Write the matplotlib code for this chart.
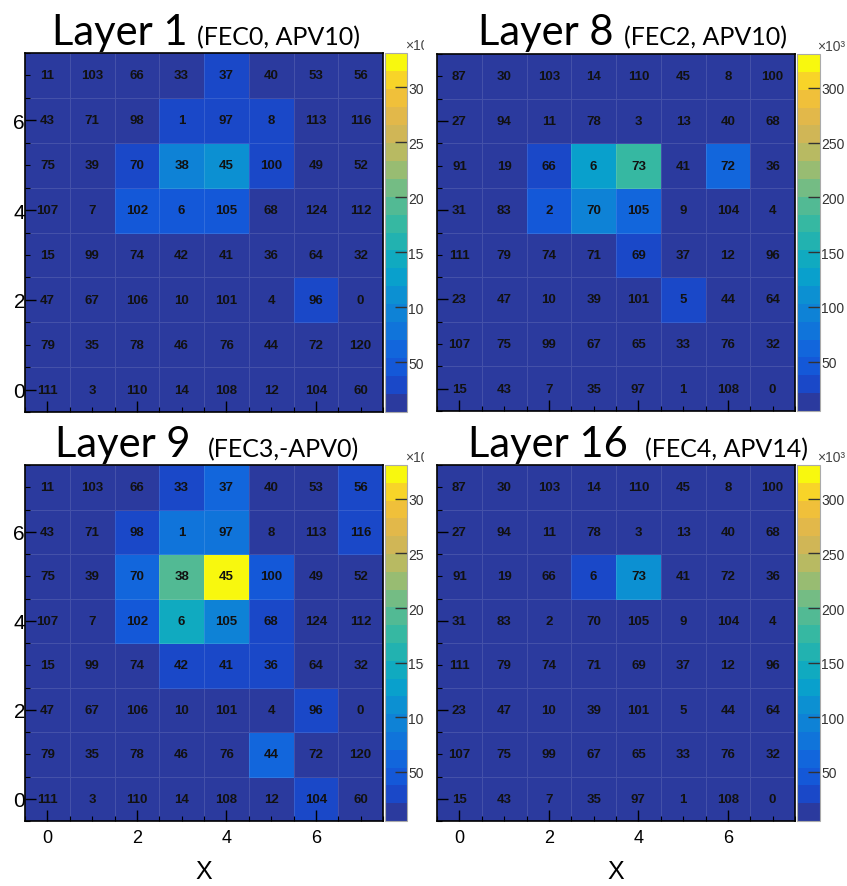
import numpy as np
import matplotlib
matplotlib.use('Agg')
import matplotlib.pyplot as plt
from matplotlib.colors import ListedColormap, Normalize
from matplotlib.patches import Rectangle
from matplotlib.ticker import MultipleLocator

W, H = 847, 887

# channel numbers printed in the cells (rows listed top y=7 -> bottom y=0)
chan_a = [[11, 103, 66, 33, 37, 40, 53, 56],
          [43, 71, 98, 1, 97, 8, 113, 116],
          [75, 39, 70, 38, 45, 100, 49, 52],
          [107, 7, 102, 6, 105, 68, 124, 112],
          [15, 99, 74, 42, 41, 36, 64, 32],
          [47, 67, 106, 10, 101, 4, 96, 0],
          [79, 35, 78, 46, 76, 44, 72, 120],
          [111, 3, 110, 14, 108, 12, 104, 60]]
chan_b = [[87, 30, 103, 14, 110, 45, 8, 100],
          [27, 94, 11, 78, 3, 13, 40, 68],
          [91, 19, 66, 6, 73, 41, 72, 36],
          [31, 83, 2, 70, 105, 9, 104, 4],
          [111, 79, 74, 71, 69, 37, 12, 96],
          [23, 47, 10, 39, 101, 5, 44, 64],
          [107, 75, 99, 67, 65, 33, 76, 32],
          [15, 43, 7, 35, 97, 1, 108, 0]]

# charge per pad (x10^3), estimated from the colours, same row order
layer1 = [[12, 12, 12, 12, 30, 12, 12, 12],
          [12, 12, 12, 30, 30, 30, 12, 12],
          [12, 12, 32, 95, 105, 32, 12, 12],
          [12, 12, 50, 52, 50, 12, 12, 12],
          [12, 12, 12, 12, 12, 12, 12, 12],
          [12, 12, 12, 12, 12, 12, 30, 12],
          [12, 12, 12, 12, 12, 12, 12, 12],
          [12, 12, 12, 12, 12, 12, 12, 12]]
layer8 = [[12, 12, 12, 12, 12, 12, 12, 12],
          [12, 12, 12, 12, 12, 12, 12, 12],
          [12, 12, 32, 128, 170, 12, 60, 12],
          [12, 12, 40, 92, 55, 12, 12, 12],
          [12, 12, 12, 12, 36, 12, 12, 12],
          [12, 12, 12, 12, 12, 32, 12, 12],
          [12, 12, 12, 12, 12, 12, 12, 12],
          [12, 12, 12, 12, 12, 12, 12, 12]]
layer9 = [[12, 12, 12, 30, 60, 12, 12, 34],
          [12, 12, 34, 80, 78, 12, 12, 34],
          [12, 12, 60, 192, 325, 40, 12, 12],
          [12, 12, 40, 144, 92, 30, 12, 12],
          [12, 12, 12, 34, 34, 30, 12, 12],
          [12, 12, 12, 12, 12, 12, 34, 12],
          [12, 12, 12, 12, 12, 58, 12, 12],
          [12, 12, 12, 12, 12, 12, 34, 12]]
layer16 = [[12, 12, 12, 12, 12, 12, 12, 12],
           [12, 12, 12, 12, 12, 12, 12, 12],
           [12, 12, 12, 34, 108, 12, 12, 12],
           [12, 12, 12, 12, 12, 12, 12, 12],
           [12, 12, 12, 12, 12, 12, 12, 12],
           [12, 12, 12, 12, 12, 12, 12, 12],
           [12, 12, 12, 12, 12, 12, 12, 12],
           [12, 12, 12, 12, 12, 12, 12, 12]]

titles = [('Layer 1', '(FEC0, APV10)'), ('Layer 8', '(FEC2, APV10)'),
          ('Layer 9', '(FEC3,-APV0)'), ('Layer 16', '(FEC4, APV14)')]

# 20-level bird-like palette as seen on the colour bars
bird = ['#2b3a9e', '#1a48c8', '#1458d8', '#1266dc', '#1074da', '#0e82d6', '#0c90d2',
        '#09a0cc', '#10aac0', '#22b2b0', '#36b8a2', '#52ba94', '#74bc84', '#98bc72',
        '#b8ba62', '#d0b656', '#e2b84a', '#f0c03a', '#f8d428', '#f8f80e']
cmap = ListedColormap(bird)
norm = Normalize(5, 331)

def rect(x0, y0, x1, y1):
    return [x0 / W, 1 - y1 / H, (x1 - x0) / W, (y1 - y0) / H]

fig = plt.figure(figsize=(W / 100, H / 100), dpi=100)

panels = [  # heat box, colorbar box, title positions (px)
    (layer1, chan_a, (25, 54, 383, 413), (385, 54, 407, 413), (52, 197, 45), True, False),
    (layer8, chan_b, (437, 55, 795, 412), (797, 55, 820, 412), (478, 624, 45), False, False),
    (layer9, chan_a, (25, 466, 383, 822), (385, 466, 407, 822), (55, 208, 457), True, True),
    (layer16, chan_b, (437, 466, 795, 822), (797, 466, 820, 822), (468, 645, 457), False, True),
]

edges = np.arange(-0.5, 8.5, 1)
for i, (vals, chans, hb, cb, tp, ylab, xlab) in enumerate(panels):
    ax = fig.add_axes(rect(*hb))
    z = np.flipud(np.array(vals, float))
    ch = np.flipud(np.array(chans))
    m = ax.pcolormesh(edges, edges, z, cmap=cmap, norm=norm,
                      edgecolors=(1, 1, 1, 0.12), linewidth=0.6)
    for r in range(8):
        for c in range(8):
            ax.text(c, r, str(ch[r, c]), ha='center', va='center', fontsize=9.5,
                    fontweight='bold', family='Liberation Sans', color='#111')
    ax.set_xlim(-0.5, 7.5); ax.set_ylim(-0.5, 7.5)
    ax.set_xticks([0, 2, 4, 6]); ax.set_yticks([0, 2, 4, 6])
    ax.xaxis.set_minor_locator(MultipleLocator(0.5))
    ax.yaxis.set_minor_locator(MultipleLocator(0.5))
    ax.tick_params(which='major', direction='in', length=8, width=1, color='black')
    ax.tick_params(which='minor', direction='in', length=3.5, width=0.8, color='black')
    ax.tick_params(axis='y', labelsize=15, pad=0, labelleft=ylab)
    ax.tick_params(axis='x', labelsize=13, pad=6, labelbottom=xlab)
    for lab in ax.get_xticklabels() + ax.get_yticklabels():
        lab.set_family('Liberation Sans')
    for s in ax.spines.values():
        s.set_linewidth(1.2)
    if xlab:
        ax.set_xlabel('X', fontsize=18, family='Liberation Sans', labelpad=9)

    cax = fig.add_axes(rect(*cb))
    cbar = fig.colorbar(m, cax=cax)
    cbar.set_ticks([50, 100, 150, 200, 250, 300])
    cax.yaxis.set_ticks_position('right')
    cax.tick_params(direction='in', length=9, width=1, color='#333', labelsize=10,
                    labelcolor='#333', pad=1)
    cbar.outline.set_edgecolor('#aaa')
    cbar.outline.set_linewidth(0.8)
    for lab in cax.get_yticklabels():
        lab.set_family('Liberation Sans')
    fig.text((cb[0] + 20) / W, 1 - (cb[1] - 1) / H, '×10³', fontsize=10, color='#444',
             family='Liberation Sans', va='bottom')

    big, small = titles[i]
    fig.text(tp[0] / W, 1 - tp[2] / H, big, fontsize=30, family='Lato', va='baseline')
    fig.text(tp[1] / W, 1 - tp[2] / H, small, fontsize=18, family='Lato', va='baseline')

# crop the left colour bar labels like the pasted screenshots
fig.add_artist(Rectangle((424 / W, 0), 12 / W, 1, transform=fig.transFigure,
                         facecolor='white', edgecolor='none', zorder=10))

fig.savefig('out.png', dpi=100)
